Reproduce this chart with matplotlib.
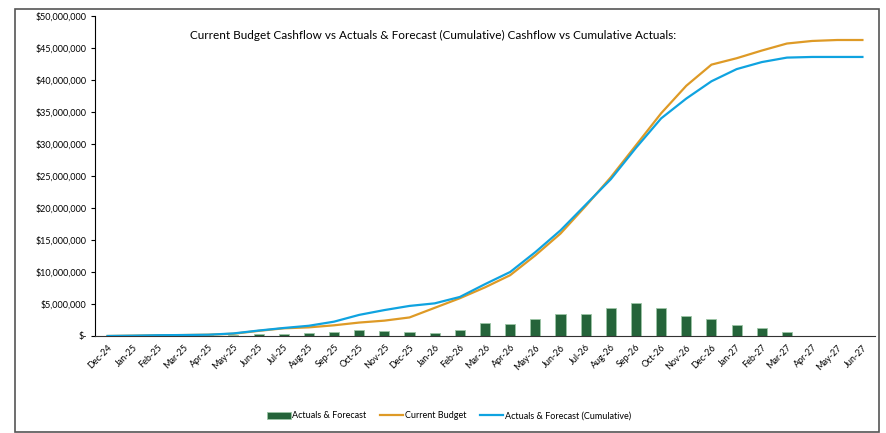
import matplotlib
matplotlib.use("Agg")
import matplotlib.pyplot as plt
from matplotlib.patches import Rectangle
from matplotlib.ticker import FuncFormatter
import numpy as np

plt.rcParams["font.family"] = ["Lato", "DejaVu Sans"]

months = ["Dec-24", "Jan-25", "Feb-25", "Mar-25", "Apr-25", "May-25", "Jun-25",
          "Jul-25", "Aug-25", "Sep-25", "Oct-25", "Nov-25", "Dec-25", "Jan-26",
          "Feb-26", "Mar-26", "Apr-26", "May-26", "Jun-26", "Jul-26", "Aug-26",
          "Sep-26", "Oct-26", "Nov-26", "Dec-26", "Jan-27", "Feb-27", "Mar-27",
          "Apr-27", "May-27", "Jun-27"]

# monthly actuals & forecast ($M)
actuals_forecast = [0.0, 0.05, 0.07, 0.05, 0.08, 0.15, 0.3, 0.35, 0.45, 0.55,
                    1.0, 0.8, 0.55, 0.4, 1.0, 2.05, 1.85, 2.7, 3.4, 3.5, 4.4,
                    5.15, 4.4, 3.15, 2.7, 1.75, 1.2, 0.67, 0.05, 0.03, 0.0]

# cumulative current budget ($M)
current_budget = [0.0, 0.05, 0.1, 0.15, 0.2, 0.35, 0.8, 1.2, 1.35, 1.67, 2.1,
                  2.4, 2.9, 4.4, 5.9, 7.6, 9.5, 12.6, 16.0, 20.3, 24.8, 29.8,
                  34.8, 39.1, 42.4, 43.4, 44.6, 45.7, 46.1, 46.25, 46.25]

# actuals & forecast cumulative ($M)
actuals_cum = [0.0, 0.05, 0.12, 0.15, 0.2, 0.4, 0.85, 1.25, 1.6, 2.24, 3.3,
               4.05, 4.7, 5.1, 6.1, 8.1, 10.0, 13.1, 16.5, 20.5, 24.5, 29.4,
               34.0, 37.1, 39.8, 41.7, 42.8, 43.5, 43.6, 43.6, 43.6]

green = "#25643A"
orange = "#DE9A26"
blue = "#0FA3E0"

fig = plt.figure(figsize=(8.87, 4.33), dpi=100)
fig.patches.append(Rectangle((15 / 887, 1 / 433), 864 / 887, 423 / 433,
                             transform=fig.transFigure, fill=False,
                             edgecolor="#555555", linewidth=1.2))
ax = fig.add_axes([95 / 887, 97 / 433, 780 / 887, 320 / 433])

x = np.arange(len(months))
scale = 1e6
bars = ax.bar(x, np.array(actuals_forecast) * scale, width=0.4, color=green,
              edgecolor="#9CC6A6", linewidth=0.6, label="Actuals & Forecast",
              zorder=2)
l1, = ax.plot(x, np.array(current_budget) * scale, color=orange, lw=1.6,
              label="Current Budget", zorder=3)
l2, = ax.plot(x, np.array(actuals_cum) * scale, color=blue, lw=1.6,
              label="Actuals & Forecast (Cumulative)", zorder=4)

ax.set_xlim(-0.5, len(months) - 0.5)
ax.set_ylim(0, 50e6)
ax.set_yticks(np.arange(0, 50e6 + 1, 5e6))


def money(v, pos):
    if v == 0:
        return "$-"
    return "${:,.0f}".format(v)


ax.yaxis.set_major_formatter(FuncFormatter(money))
ax.tick_params(axis="y", labelsize=6.5, length=3, width=0.8, pad=3)
ax.set_xticks(x)
ax.set_xticklabels(months, rotation=45, ha="right", rotation_mode="anchor",
                   fontsize=6.5)
ax.tick_params(axis="x", length=0, pad=5)

for s in ["top", "right"]:
    ax.spines[s].set_visible(False)
ax.spines["left"].set_color("black")
ax.spines["bottom"].set_color("#333333")

ax.text(0.433, 0.94, "Current Budget Cashflow vs Actuals & Forecast (Cumulative) "
        "Cashflow vs Cumulative Actuals:", transform=ax.transAxes,
        ha="center", va="center", fontsize=8.5)

fig.legend(handles=[bars, l1, l2], loc="center",
           bbox_to_anchor=(449 / 887, 1 - 416 / 433), ncol=3,
           frameon=False, fontsize=6.5, handlelength=2.6, columnspacing=1.5,
           handletextpad=0.15)

fig.savefig("out.png", dpi=100)
